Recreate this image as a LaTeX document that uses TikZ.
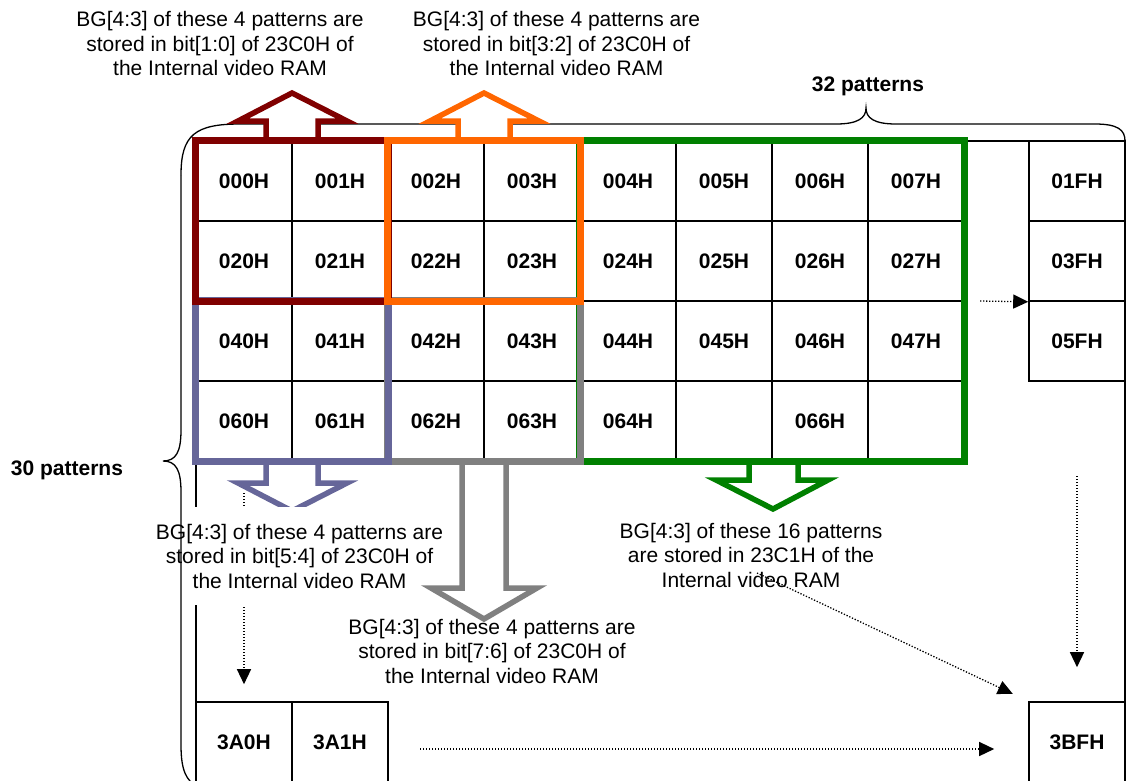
\documentclass[tikz,border=0pt]{standalone}
\usepackage{fontspec}
\setmainfont{Liberation Sans}
\usetikzlibrary{arrows.meta}
\definecolor{cred}{HTML}{800000}
\definecolor{corange}{HTML}{FF6600}
\definecolor{cblue}{HTML}{666699}
\definecolor{cgray}{HTML}{808080}
\definecolor{cgreen}{HTML}{008000}
\begin{document}
\begin{tikzpicture}[x=1pt,y=-1pt,
  cell/.style={draw=black, line width=1.6pt, minimum width=96pt, minimum height=80pt, inner sep=0pt, font=\fontsize{21}{24.5}\selectfont\bfseries},
  lbl/.style={align=center, font=\fontsize{21}{24.5}\selectfont, inner xsep=4pt, inner ysep=2pt},
  bold/.style={font=\fontsize{21}{24.5}\selectfont\bfseries, inner sep=2pt},
  grp/.style={line width=7pt},
  blk/.style={line width=5.5pt, fill=white, line join=miter},
  dots/.style={line width=1.3pt, dash pattern=on 1.3pt off 1.7pt, -{Triangle[length=15pt,width=14pt]}},
  brc/.style={line width=1.3pt}]
\useasboundingbox (0,0) rectangle (1145,780);

% outer frame
\draw[line width=1.6pt] (196,784) -- (196,141) -- (1125,141) -- (1125,784);

% main grid
\foreach \t [count=\i from 0] in {000H,001H,002H,003H,004H,005H,006H,007H}
  \node[cell] (r0c\i) at ({244+96*\i},181) {\t};
\foreach \t [count=\i from 0] in {020H,021H,022H,023H,024H,025H,026H,027H}
  \node[cell] (r1c\i) at ({244+96*\i},261) {\t};
\foreach \t [count=\i from 0] in {040H,041H,042H,043H,044H,045H,046H,047H}
  \node[cell] (r2c\i) at ({244+96*\i},341) {\t};
\foreach \t [count=\i from 0] in {060H,061H,062H,063H,064H,{},066H,{}}
  \node[cell] (r3c\i) at ({244+96*\i},421) {\t};

% right column and bottom cells
\node[cell] (c01F) at (1077,181) {01FH};
\node[cell] (c03F) at (1077,261) {03FH};
\node[cell] (c05F) at (1077,341) {05FH};
\node[cell] (c3A0) at (244,742) {3A0H};
\node[cell] (c3A1) at (340,742) {3A1H};
\node[cell] (c3BF) at (1077,742) {3BFH};

% top brace
\draw[brc] (181,175) .. controls (181,135) and (195,124) .. (240,124) -- (836,124)
  .. controls (858,124) and (866,118) .. (866,108)
  .. controls (866,118) and (874,124) .. (896,124) -- (1095,124)
  .. controls (1118,124) and (1125,130) .. (1125,141);

% block arrows
\draw[blk, draw=cred] (266,141) -- (266,121) -- (238,121) -- (292,93) -- (347,121) -- (318,121) -- (318,141);
\draw[blk, draw=corange] (458,141) -- (458,121) -- (430,121) -- (484,93) -- (539,121) -- (510,121) -- (510,141);
\draw[blk, draw=cblue] (266,461) -- (266,483) -- (238,483) -- (292,511) -- (347,483) -- (318,483) -- (318,461);
\draw[blk, draw=cgreen] (749,461) -- (749,480) -- (716,480) -- (773,509) -- (828,480) -- (798,480) -- (798,461);

% left dotted arrow (partly hidden by the label)
\coordinate (lvs) at (244,493);
\draw[dots, shorten >=17pt] (lvs) -- (c3A0.north);

% label for blue group (white background)
\node[lbl, fill=white, minimum height=98pt] (lblC) at (299.5,556)
  {BG[4:3] of these 4 patterns are\\stored in bit[5:4] of 23C0H of\\the Internal video RAM};

% gray arrow
\draw[blk, draw=cgray] (462,461) -- (462,588) -- (431,588) -- (484,619) -- (537,588) -- (506,588) -- (506,461);

% left brace
\draw[brc] (181,175) -- (181,430) .. controls (181,452) and (176,461) .. (163,461)
  .. controls (176,461) and (181,470) .. (181,492) -- (181,745)
  .. controls (181,772) and (187,780) .. (196,786);

% coloured group frames
\draw[grp, draw=cgreen] (r0c4.north west) rectangle (r3c7.south east);
\draw[grp, draw=cgray] (r2c2.north west) rectangle (r3c3.south east);
\draw[grp, draw=cblue] (r2c0.north west) rectangle (r3c1.south east);
\draw[grp, draw=cred] (r0c0.north west) rectangle (r1c1.south east);
\draw[grp, draw=corange] (r0c2.north west) rectangle (r1c3.south east);

% labels
\node[lbl] (lblA) at (220,43.5) {BG[4:3] of these 4 patterns are\\stored in bit[1:0] of 23C0H of\\the Internal video RAM};
\node[lbl] (lblB) at (556.5,43.5) {BG[4:3] of these 4 patterns are\\stored in bit[3:2] of 23C0H of\\the Internal video RAM};
\node[lbl] (lblD) at (492,651) {BG[4:3] of these 4 patterns are\\stored in bit[7:6] of 23C0H of\\the Internal video RAM};
\node[lbl] (lblE) at (751,555) {BG[4:3] of these 16 patterns\\are stored in 23C1H of the\\Internal video RAM};
\node[bold] (n32) at (868,86) {32 patterns};
\node[bold] (n30) at (67,470) {30 patterns};

% dotted connectors
\coordinate (hts) at (980,301);
\draw[dots] (hts) -- (c03F.south west);
\coordinate (vrs) at (1077,476);
\draw[dots, shorten >=34pt] (vrs) -- (c3BF.north);
\coordinate (hbs) at (420,749);
\draw[dots, shorten >=34pt] (hbs) -- (c3BF.west |- hbs);
\coordinate (dgs) at (757,573);
\draw[dots, shorten >=17pt] (dgs) -- (c3BF.north west);
\end{tikzpicture}
\end{document}
